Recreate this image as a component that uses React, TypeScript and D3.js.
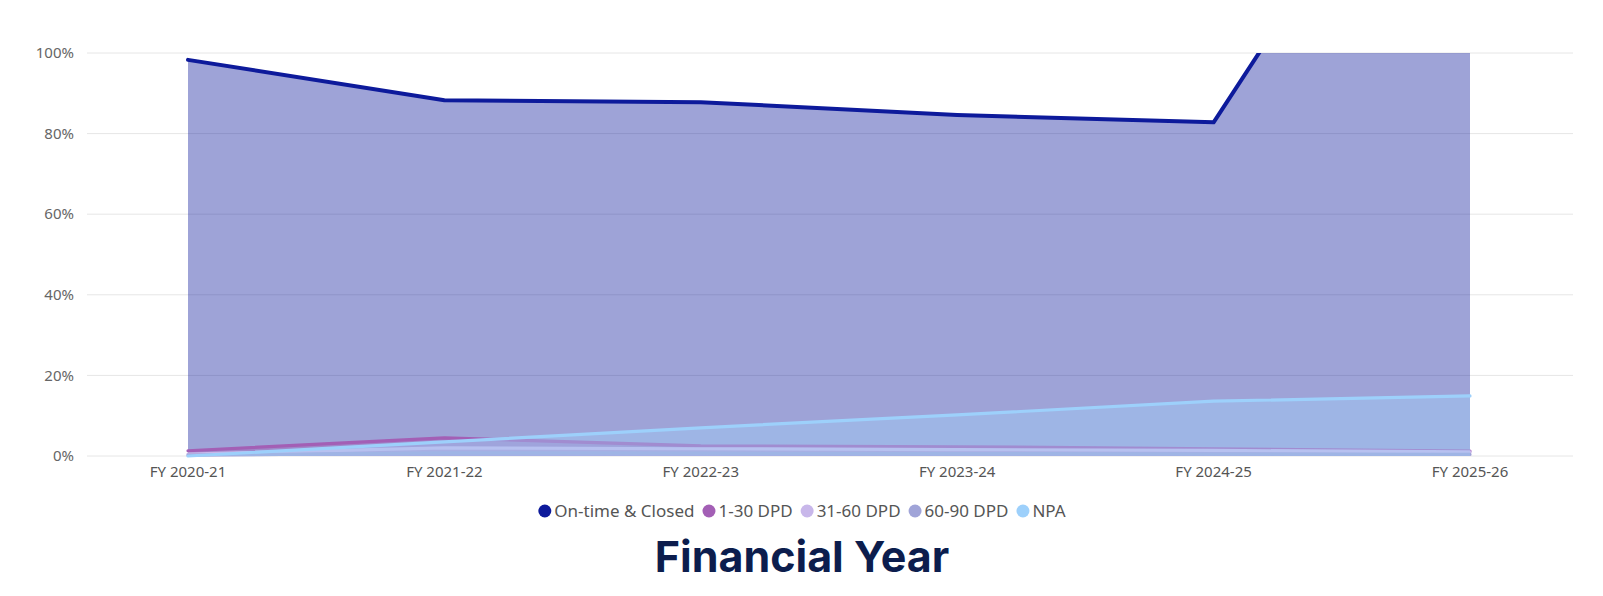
import { useEffect, useRef } from "react";
import * as d3 from "d3";

const categories = ["FY 2020-21", "FY 2021-22", "FY 2022-23", "FY 2023-24", "FY 2024-25", "FY 2025-26"];
const onTimeClosed = [98.3, 88.3, 87.8, 84.6, 82.8, 180];
const dpd1to30 = [1.3, 4.5, 2.5, 2.3, 1.8, 1.2];
const dpd31to60 = [0.5, 2.0, 1.8, 1.6, 1.4, 1.0];
const dpd60to90 = [0.2, 0.8, 0.7, 0.6, 0.5, 0.4];
const npa = [0, 3.5, 7.0, 10.2, 13.6, 14.9];
const seriesNames = ["On-time & Closed", "1-30 DPD", "31-60 DPD", "60-90 DPD", "NPA"];
const seriesColors = ["#0d1a9b", "#a35fb5", "#c8b7ea", "#a0a4d8", "#9dd0fb"];
const yTicks = [0, 20, 40, 60, 80, 100];

export default function App() {
  const ref = useRef<SVGSVGElement>(null);

  useEffect(() => {
    document.body.style.margin = "0";
    const svg = d3.select(ref.current);
    svg.selectAll("*").remove();

    const W = 1603;
    const H = 596;
    const gridLeft = 87;
    const gridRight = 1573;

    const x = d3.scalePoint<string>().domain(categories).range([188, 1470]);
    const y = d3.scaleLinear().domain([0, 100]).range([456, 53]);

    // grid lines
    svg
      .append("g")
      .selectAll("line")
      .data(yTicks)
      .join("line")
      .attr("x1", gridLeft)
      .attr("x2", gridRight)
      .attr("y1", (d) => y(d))
      .attr("y2", (d) => y(d))
      .attr("stroke", "#e6e6e6")
      .attr("stroke-width", 1);

    // y labels
    svg
      .append("g")
      .selectAll("text")
      .data(yTicks)
      .join("text")
      .attr("x", 74)
      .attr("y", (d) => y(d))
      .attr("dy", "0.35em")
      .attr("text-anchor", "end")
      .attr("font-family", "'Noto Sans', sans-serif")
      .attr("font-size", 15)
      .attr("fill", "#666")
      .text((d) => `${d}%`);

    svg
      .append("defs")
      .append("clipPath")
      .attr("id", "plot-clip")
      .append("rect")
      .attr("x", 0)
      .attr("y", y(100))
      .attr("width", W)
      .attr("height", H - y(100));

    const allValues = [onTimeClosed, dpd1to30, dpd31to60, dpd60to90, npa];
    const series = seriesNames.map((name, i) => ({ name, color: seriesColors[i], values: allValues[i] }));

    const plot = svg.append("g").attr("clip-path", "url(#plot-clip)");
    const area = d3
      .area<number>()
      .x((_, i) => x(categories[i])!)
      .y0(y(0))
      .y1((d) => y(d));
    const line = d3
      .line<number>()
      .x((_, i) => x(categories[i])!)
      .y((d) => y(d));

    series.forEach((s, i) => {
      plot
        .append("path")
        .datum(s.values)
        .attr("d", area)
        .attr("fill", s.color)
        .attr("fill-opacity", 0.4);
      plot
        .append("path")
        .datum(s.values)
        .attr("d", line)
        .attr("fill", "none")
        .attr("stroke", s.color)
        .attr("stroke-width", i === 0 ? 4 : 3.2)
        .attr("stroke-linejoin", "round")
        .attr("stroke-linecap", "round");
    });

    // x labels
    svg
      .append("g")
      .selectAll("text")
      .data(categories)
      .join("text")
      .attr("x", (d) => x(d)!)
      .attr("y", 472)
      .attr("dy", "0.35em")
      .attr("text-anchor", "middle")
      .attr("font-family", "'Noto Sans', sans-serif")
      .attr("font-size", 15)
      .attr("fill", "#555")
      .text((d) => d);

    // legend
    const legend = svg.append("g");
    const legendY = 511;
    const r = 6.5;
    const items = series.map((s) => {
      const g = legend.append("g");
      g.append("circle").attr("r", r).attr("cy", legendY).attr("fill", s.color);
      const t = g
        .append("text")
        .attr("y", legendY)
        .attr("dy", "0.35em")
        .attr("font-family", "'Noto Sans', sans-serif")
        .attr("font-size", 17)
        .attr("fill", "#555")
        .text(s.name);
      return { g, t, w: (t.node() as SVGTextElement).getComputedTextLength() };
    });
    const itemW = items.map((it) => r * 2 + 3 + it.w);
    const gap = 8;
    const total = d3.sum(itemW) + gap * (items.length - 1);
    let cx = 802 - total / 2;
    items.forEach((it, i) => {
      it.g.select("circle").attr("cx", cx + r);
      it.t.attr("x", cx + r * 2 + 3);
      cx += itemW[i] + gap;
    });

    // axis title
    svg
      .append("text")
      .attr("x", 802)
      .attr("y", 572)
      .attr("text-anchor", "middle")
      .attr("font-family", "Inter, sans-serif")
      .attr("font-weight", 700)
      .attr("font-size", 43)
      .attr("fill", "#0c1d4d")
      .text("Financial Year");
  }, []);

  return <svg ref={ref} width={1603} height={596} style={{ display: "block", background: "#fff" }} />;
}
